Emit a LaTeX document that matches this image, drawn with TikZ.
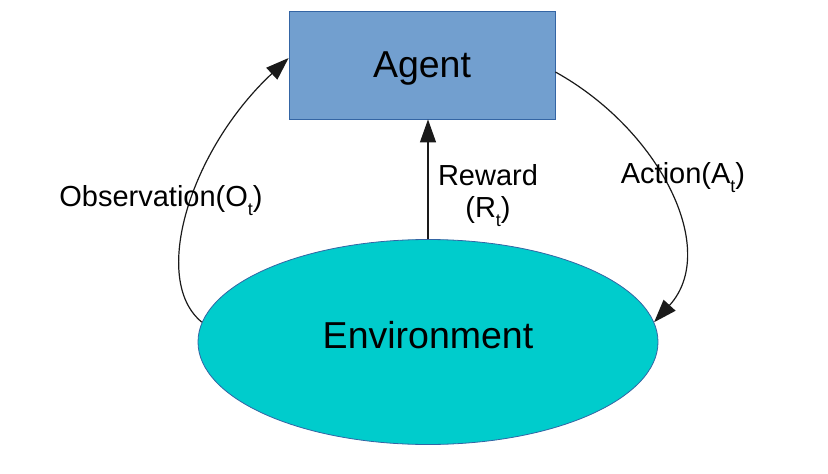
\documentclass[tikz,border=0pt]{standalone}
\usepackage{fontspec}
\setmainfont{Liberation Sans}
\usetikzlibrary{arrows.meta,shapes.geometric,calc}
\definecolor{agentfill}{HTML}{729FCF}
\definecolor{agentline}{HTML}{3465A4}
\definecolor{envfill}{HTML}{00CCCC}
\definecolor{linkgray}{HTML}{1A1A1A}
% lowered time index used in the loop labels
\newcommand{\tsub}{\raisebox{-9pt}{\fontsize{18}{18}\selectfont t}}
\begin{document}
\begin{tikzpicture}[x=1pt,y=-1pt,
  agentbox/.style={draw=agentline, line width=0.8pt, fill=agentfill,
    minimum width=266pt, minimum height=108pt, inner sep=0pt, text depth=0pt,
    font=\fontsize{37.5}{40}\selectfont},
  envshape/.style={ellipse, draw=agentline, line width=0.8pt, fill=envfill,
    minimum width=460pt, minimum height=205pt, inner sep=0pt},
  bigtext/.style={font=\fontsize{37.5}{40}\selectfont, inner sep=0pt},
  flowlabel/.style={font=\fontsize{29}{32}\selectfont, inner sep=0pt},
  link/.style={draw=linkgray, line width=1.2pt,
    -{Triangle[length=23pt,width=16pt]}}]
\useasboundingbox (0,0) rectangle (828,474);

% agent and environment
\node[agentbox] (agent) at (422,65) {Agent};
\node[envshape] (env) at (428,342) {};
\node[bigtext] (envtext) at (428,335) {Environment};

% interaction loop
\draw[link] (env.175) .. controls (150,280) and (190,150) .. (agent.177);
\draw[link] (agent.-3) .. controls (660,130) and (720,250) .. (env.5);
\draw[link] (env.north) -- (env.north |- agent.south);

% labels
\node[flowlabel, anchor=base] (obslabel) at (161,206) {Observation(O\tsub)};
\node[flowlabel, align=center] (rewlabel) at (488,196) {Reward\\(R\tsub)};
\node[flowlabel, anchor=base] (actlabel) at (683,183) {Action(A\tsub)};
\end{tikzpicture}
\end{document}
